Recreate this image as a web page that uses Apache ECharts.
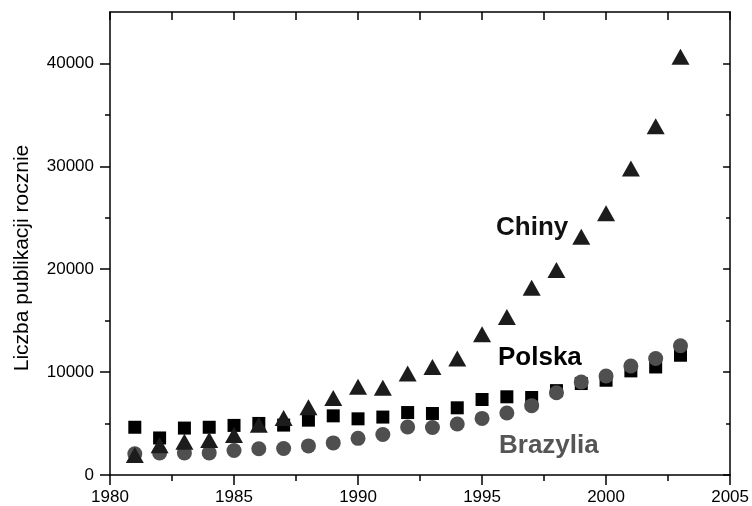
<!DOCTYPE html>
<html>
<head>
<meta charset="utf-8">
<script src="https://cdn.jsdelivr.net/npm/echarts@6/dist/echarts.min.js"></script>
<style>
html,body{margin:0;padding:0;background:#fff;}
#chart{width:752px;height:506px;}
</style>
</head>
<body>
<div id="chart"></div>
<script>
const years = [1981,1982,1983,1984,1985,1986,1987,1988,1989,1990,1991,1992,1993,1994,1995,1996,1997,1998,1999,2000,2001,2002,2003];
const polska = [4640,3600,4560,4640,4820,5010,4850,5330,5750,5460,5630,6070,5980,6530,7340,7600,7530,8200,8890,9210,10120,10500,11640];
const chiny = [1940,2880,3230,3400,3880,4880,5530,6580,7490,8570,8470,9860,10490,11330,13690,15360,18190,19930,23160,25430,29800,33900,40660];
const brazylia = [2070,2150,2150,2150,2380,2550,2580,2830,3120,3560,3930,4660,4620,4950,5500,6030,6740,8000,9040,9620,10590,11320,12560];
const yMajor = [0,10000,20000,30000,40000];
const yMinor = [5000,15000,25000,35000];
const xTicks = [1980,1985,1990,1995,2000,2005];
const seriesNames = ['Chiny','Polska','Brazylia'];
const yTitle = 'Liczba publikacji rocznie';

const FONT = '"Liberation Sans", Arial, sans-serif';
const chart = echarts.init(document.getElementById('chart'));
const lineStyle = {color:'#000', width:1.5};
const pairs = arr => years.map((y,i)=>[y, arr[i]]);

const option = {
  animation:false,
  backgroundColor:'#fff',
  grid:{left:110, right:20, top:12, bottom:31},
  xAxis:[
    {type:'value', min:1980, max:2005, interval:5, position:'bottom',
     axisLine:{onZero:false, lineStyle},
     axisTick:{length:10, lineStyle},
     minorTick:{show:true, splitNumber:2, length:6, lineStyle},
     splitLine:{show:false}, minorSplitLine:{show:false},
     axisLabel:{fontSize:17, color:'#000', margin:14, fontFamily:FONT,
       formatter: v => xTicks.includes(v) ? String(v) : ''}},
    {type:'value', min:1980, max:2005, interval:5, position:'top',
     axisLine:{onZero:false, lineStyle},
     axisTick:{inside:true, length:8, lineStyle},
     minorTick:{show:true, splitNumber:2, length:8, lineStyle},
     splitLine:{show:false}, axisLabel:{show:false}}
  ],
  yAxis:[
    {type:'value', min:0, max:45000, position:'left',
     axisLine:{onZero:false, lineStyle},
     axisTick:{length:10, lineStyle, customValues:yMajor},
     axisLabel:{fontSize:17, color:'#000', margin:16, fontFamily:FONT, customValues:yMajor,
       formatter: v => String(v)},
     splitLine:{show:false}},
    {type:'value', min:0, max:45000, position:'left',
     axisLine:{show:false},
     axisTick:{length:5, lineStyle, customValues:yMinor},
     axisLabel:{show:false}, splitLine:{show:false}},
    {type:'value', min:0, max:45000, position:'right',
     axisLine:{onZero:false, lineStyle},
     axisTick:{inside:true, length:7, lineStyle, customValues:yMajor},
     axisLabel:{show:false}, splitLine:{show:false}},
    {type:'value', min:0, max:45000, position:'right',
     axisLine:{show:false},
     axisTick:{inside:true, length:4, lineStyle, customValues:yMinor},
     axisLabel:{show:false}, splitLine:{show:false}}
  ],
  series:[
    {name:seriesNames[1], type:'scatter', symbol:'rect', symbolSize:13, z:2,
     itemStyle:{color:'#000', opacity:1}, data:pairs(polska)},
    {name:seriesNames[2], type:'scatter', symbol:'circle', symbolSize:15, z:3,
     itemStyle:{color:'#4f4f4f', opacity:1}, data:pairs(brazylia)},
    {name:seriesNames[0], type:'scatter', symbol:'triangle', symbolSize:[18,16], z:4,
     itemStyle:{color:'#1c1c1c', opacity:1}, data:pairs(chiny)}
  ],
  graphic:[
    {type:'text', x:22, y:258, rotation:Math.PI/2,
     style:{text:yTitle, font:'21px '+FONT, fill:'#000', align:'center', verticalAlign:'middle'}},
    {type:'text', x:496, y:228,
     style:{text:seriesNames[0], font:'bold 26px '+FONT, fill:'#111', align:'left', verticalAlign:'middle'}},
    {type:'text', x:498, y:358,
     style:{text:seriesNames[1], font:'bold 26px '+FONT, fill:'#000', align:'left', verticalAlign:'middle'}},
    {type:'text', x:499, y:446,
     style:{text:seriesNames[2], font:'bold 26px '+FONT, fill:'#555', align:'left', verticalAlign:'middle'}}
  ]
};
chart.setOption(option);
</script>
</body>
</html>
